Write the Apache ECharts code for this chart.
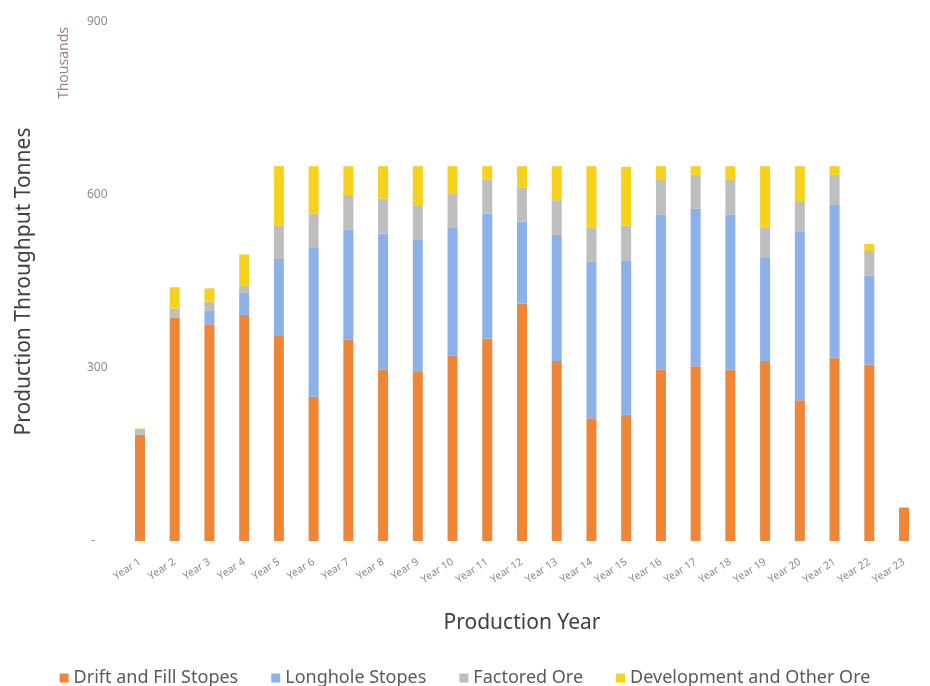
<!DOCTYPE html>
<html>
<head>
<meta charset="utf-8">
<script src="https://cdn.jsdelivr.net/npm/echarts@6/dist/echarts.min.js"></script>
<style>html,body{margin:0;padding:0;background:#fff;}#c{width:930px;height:686px;}</style>
</head>
<body>
<div id="c"></div>
<script>
const categories = ['Year 1','Year 2','Year 3','Year 4','Year 5','Year 6','Year 7','Year 8','Year 9','Year 10','Year 11','Year 12','Year 13','Year 14','Year 15','Year 16','Year 17','Year 18','Year 19','Year 20','Year 21','Year 22','Year 23'];
const driftFill  = [184,387,376,392,357,250,350,297,293,322,351,412,312,213,219,297,303,297,312,244,318,306,58];
const longhole   = [0,0,23,38,132,258,190,236,229,222,217,142,219,271,268,269,273,269,180,293,266,154,0];
const factored   = [10,16,16,12,58,60,60,61,59,59,59,59,60,60,60,60,59,60,52,51,51,43,0];
const development= [1,37,23,55,103,82,50,56,69,47,23,37,59,106,102,24,15,24,106,62,15,12,0];
const yTicks = [0,300,600,900];

const seriesDefs = [
  ['Drift and Fill Stopes', driftFill, '#EE8537'],
  ['Longhole Stopes', longhole, '#8CB1E8'],
  ['Factored Ore', factored, '#BEBEBE'],
  ['Development and Other Ore', development, '#F6D21C']
];
const FONT = 'Noto Sans';
const chart = echarts.init(document.getElementById('c'), null, {renderer:'canvas'});
chart.setOption({
  backgroundColor:'#ffffff',
  animation:false,
  textStyle:{fontFamily:FONT},
  grid:{left:122.6, right:8.6, top:22, bottom:145},
  legend:{
    bottom:-6, left:'center', itemWidth:9, itemHeight:9, itemGap:33, icon:'rect',
    textStyle:{fontSize:18, color:'#595959', fontFamily:FONT},
    data: seriesDefs.map(s=>s[0])
  },
  xAxis:{
    type:'category', data:categories,
    axisLine:{show:false}, axisTick:{show:false},
    axisLabel:{interval:0, rotate:33, fontSize:10.5, color:'#8a8798', margin:20},
    name:'Production Year', nameLocation:'middle', nameGap:72,
    nameTextStyle:{fontSize:21, color:'#404040'}
  },
  yAxis:{
    type:'value', min:yTicks[0], max:yTicks[yTicks.length-1], interval:300,
    splitLine:{show:false}, axisLine:{show:false}, axisTick:{show:false},
    axisLabel:{fontSize:12, color:'#8c8c8c', margin:15,
      formatter:v=> v===0 ? '-    ' : String(v)},
    name:'Production Throughput Tonnes', nameLocation:'middle', nameGap:88,
    nameTextStyle:{fontSize:21, color:'#404040'}
  },
  graphic:[{
    type:'text', left:57, top:27, rotation:Math.PI/2,
    style:{text:'Thousands', fontSize:14, fill:'#9a7f8f', fontFamily:FONT}
  }],
  series: seriesDefs.map(s=>({
    name:s[0], type:'bar', stack:'total', data:s[1], barWidth:10,
    itemStyle:{color:s[2]}
  }))
});
</script>
</body>
</html>
